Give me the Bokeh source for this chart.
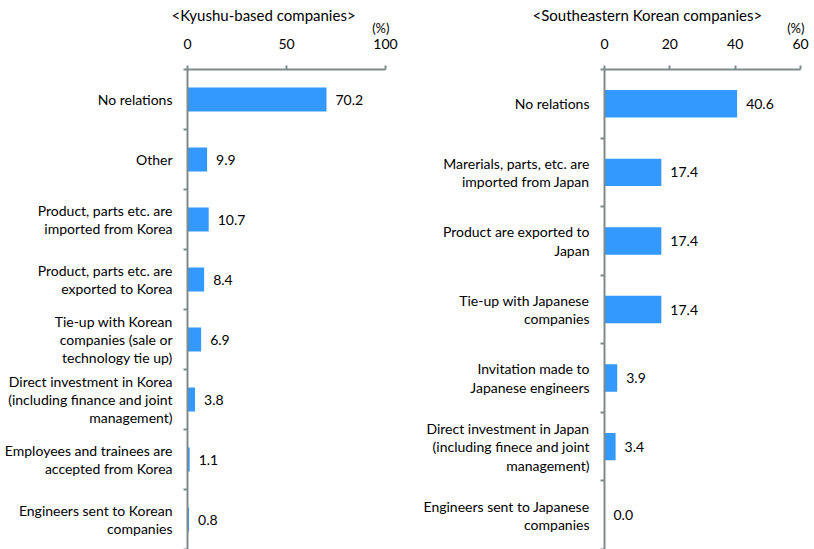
from bokeh.plotting import figure
from bokeh.models import Range1d, FixedTicker, Title, ColumnDataSource
from bokeh.layouts import row
from bokeh.embed import file_html
from bokeh.resources import INLINE
from bokeh.core.properties import value

# ---- data ----
kyushu_categories = [
    "No relations",
    "Other",
    "Product, parts etc. are\nimported from Korea",
    "Product, parts etc. are\nexported to Korea",
    "Tie-up with Korean\ncompanies (sale or\ntechnology tie up)",
    "Direct investment in Korea\n(including finance and joint\nmanagement)",
    "Employees and trainees are\naccepted from Korea",
    "Engineers sent to Korean\ncompanies",
]
kyushu_values = [70.2, 9.9, 10.7, 8.4, 6.9, 3.8, 1.1, 0.8]
kyushu_ticks = [0, 50, 100]

korea_categories = [
    "No relations",
    "Marerials, parts, etc. are\nimported from Japan",
    "Product are exported to\nJapan",
    "Tie-up with Japanese\ncompanies",
    "Invitation made to\nJapanese engineers",
    "Direct investment in Japan\n(including finece and joint\nmanagement)",
    "Engineers sent to Japanese\ncompanies",
]
korea_values = [40.6, 17.4, 17.4, 17.4, 3.9, 3.4, 0.0]
korea_ticks = [0, 20, 40, 60]

FONT = "Lato"
BAR = "#3399ff"
AXIS = "#808a8a"


def make_panel(title, cats, vals, ticks, xmax, width, border_left, border_right, title_offset):
    n = len(cats)
    centers = [i + 0.5 for i in range(n)]
    bounds = [float(i) for i in range(n + 1)]
    p = figure(width=width, height=549, output_backend="svg", toolbar_location=None,
               x_range=Range1d(0, xmax), y_range=Range1d(n, 0),
               x_axis_location="above", title=None,
               min_border_left=border_left, min_border_right=border_right,
               min_border_top=69, min_border_bottom=0)
    p.outline_line_color = None
    p.xgrid.visible = False
    p.ygrid.visible = False

    src = ColumnDataSource(dict(y=centers, v=vals, t=[f"{v:.1f}" for v in vals]))
    p.hbar(y="y", right="v", left=0, height=0.4, source=src,
           fill_color=BAR, line_color=None)
    p.text(x="v", y="y", text="t", source=src, x_offset=9,
           text_baseline="middle", text_align="left",
           text_font=value(FONT), text_font_size="14px", text_color="#000000")

    xa = p.xaxis[0]
    xa.ticker = FixedTicker(ticks=ticks)
    xa.axis_line_color = AXIS
    xa.axis_line_width = 2
    xa.major_tick_line_color = AXIS
    xa.major_tick_line_width = 2
    xa.major_tick_out = 4
    xa.major_tick_in = 0
    xa.minor_tick_line_color = None
    xa.major_label_standoff = 17
    xa.major_label_text_font = FONT
    xa.major_label_text_font_size = "14px"
    xa.major_label_text_color = "#000000"

    ya = p.yaxis[0]
    ya.ticker = FixedTicker(ticks=centers, minor_ticks=bounds)
    ya.major_label_overrides = {c: lab for c, lab in zip(centers, cats)}
    ya.axis_line_color = AXIS
    ya.axis_line_width = 2
    ya.major_tick_line_color = None
    ya.major_tick_out = 0
    ya.major_tick_in = 0
    ya.minor_tick_line_color = AXIS
    ya.minor_tick_line_width = 2
    ya.minor_tick_out = 4
    ya.minor_tick_in = 0
    ya.major_label_standoff = 11
    ya.major_label_text_font = FONT
    ya.major_label_text_font_size = "14px"
    ya.major_label_text_color = "#000000"
    ya.major_label_text_line_height = 1.08

    p.add_layout(Title(text="(%)", align="right", offset=-4, text_font=FONT,
                       text_font_size="13px", text_font_style="normal",
                       text_color="#000000", standoff=0), "above")
    main = Title(text=title, align="left", offset=title_offset, text_font=FONT,
                 text_font_size="15px", text_font_style="normal",
                 text_color="#000000", standoff=0)
    try:
        main.standoff = -13
    except Exception:
        pass
    p.add_layout(main, "above")
    return p


p1 = make_panel("<Kyushu-based companies>", kyushu_categories, kyushu_values,
                kyushu_ticks, 100, 409, 187, 24, -16)
p2 = make_panel("<Southeastern Korean companies>", korea_categories, korea_values,
                korea_ticks, 60, 405, 195, 14, -72)

layout = row(p1, p2)
open("out.html", "w").write(file_html(layout, INLINE))
